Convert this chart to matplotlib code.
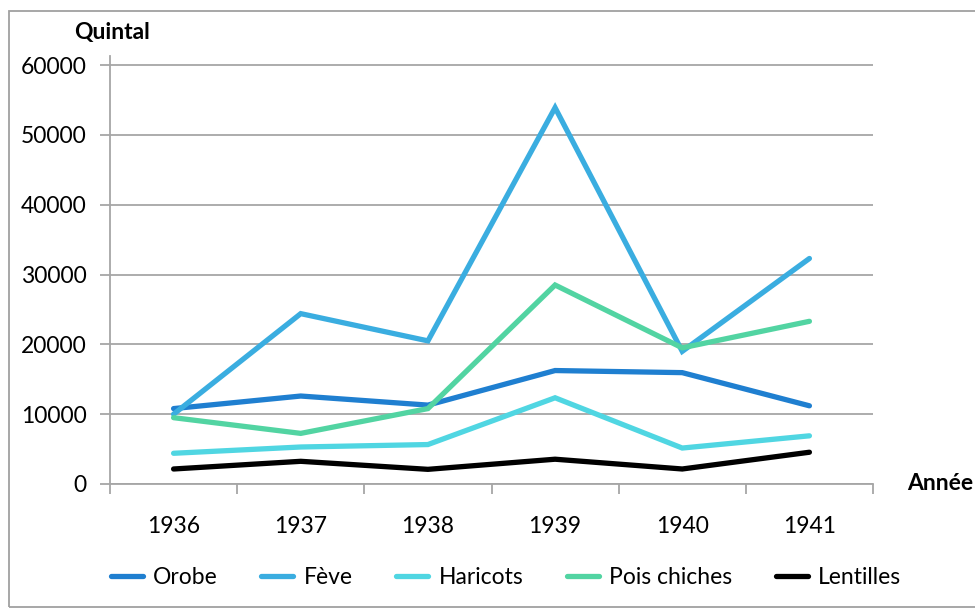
import matplotlib.pyplot as plt
from matplotlib.patches import Rectangle
import numpy as np

plt.rcParams['font.family'] = ['Lato', 'DejaVu Sans']

years = ["1936", "1937", "1938", "1939", "1940", "1941"]
orobe = [10800, 12600, 11300, 16250, 15950, 11200]
feve = [10000, 24400, 20500, 53900, 19000, 32300]
haricots = [4400, 5300, 5650, 12350, 5150, 6900]
pois_chiches = [9500, 7250, 10800, 28500, 19500, 23300]
lentilles = [2150, 3250, 2100, 3550, 2150, 4550]

series = [
    ("Orobe", orobe, "#1f7fd0"),
    ("Fève", feve, "#3aade0"),
    ("Haricots", haricots, "#50d6e2"),
    ("Pois chiches", pois_chiches, "#52d4a2"),
    ("Lentilles", lentilles, "#000000"),
]

fs = 16.5

fig = plt.figure(figsize=(9.75, 6.09), dpi=100)
ax = fig.add_axes([110 / 975, 1 - 484 / 609, (873 - 110) / 975, (484 - 56) / 609])

x = np.arange(len(years))
for name, vals, col in series:
    ax.plot(x, vals, color=col, lw=3.8, label=name, solid_capstyle="round",
            solid_joinstyle="miter")

ax.set_xlim(-0.5, len(years) - 0.5)
ax.set_ylim(0, 61300)
ax.set_yticks(np.arange(0, 60001, 10000))
ax.yaxis.grid(True, color="#a6a6a6", lw=1.3)
ax.set_axisbelow(True)

# excel-style: ticks on category boundaries, labels in the middle
ax.set_xticks(np.arange(-0.5, len(years), 1.0))
ax.set_xticklabels([])
ax.set_xticks(x, minor=True)
ax.set_xticklabels(years, minor=True)
ax.tick_params(axis="x", which="major", length=7, width=1.3, color="#a6a6a6", direction="out")
ax.tick_params(axis="x", which="minor", length=0, pad=23, labelsize=fs)
ax.tick_params(axis="y", length=7, width=1.3, color="#a6a6a6", pad=10, labelsize=fs)

for s in ["top", "right"]:
    ax.spines[s].set_visible(False)
for s in ["left", "bottom"]:
    ax.spines[s].set_color("#a6a6a6")
    ax.spines[s].set_linewidth(1.3)

fig.text(74 / 975, 1 - 33 / 609, "Quintal", fontsize=fs, fontweight="bold", va="center", ha="left")
fig.text(907 / 975, 1 - 484 / 609, "Année", fontsize=fs, fontweight="bold", va="center", ha="left")

fig.legend(loc="center", bbox_to_anchor=(506 / 975, 1 - 578 / 609), ncol=5, frameon=False,
           fontsize=fs, handlelength=1.4, handletextpad=0.45, columnspacing=1.9)

fig.patches.append(Rectangle((9 / 975, 2 / 609), 1.0, 1 - 13 / 609, transform=fig.transFigure,
                             fill=False, edgecolor="#a0a0a0", lw=1.3))

fig.savefig("out.png", dpi=100)
